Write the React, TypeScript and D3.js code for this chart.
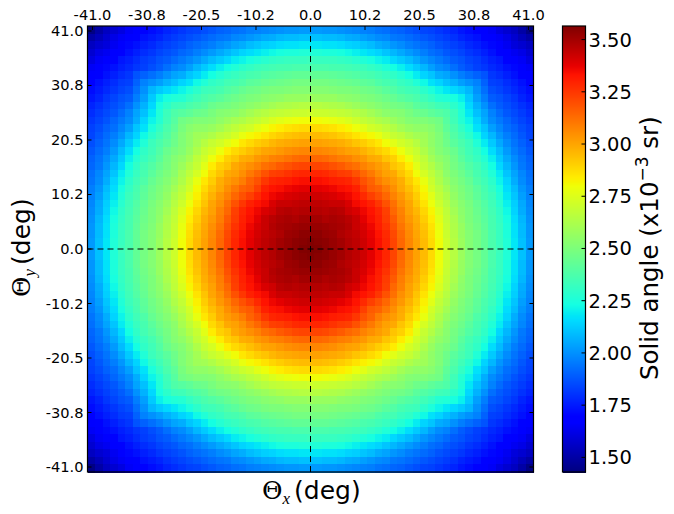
import React from "react";
import * as d3 from "d3";

// Solid angle (x10^-3 sr, stored x100), one quadrant:
// rows go outward from the centre row, columns outward from the centre column.
const quadrantRows: number[][] = [
  [357,356,354,352,350,347,345,342,338,334,329,322,314,307,301,295,288,280,271,265,258,252,248,243,237,233,226,218,210,202],
  [356,355,354,352,350,347,345,342,338,334,329,322,314,307,301,295,288,280,271,265,258,252,248,243,237,232,226,218,210,202],
  [354,354,352,351,348,346,344,341,337,333,328,321,313,306,300,294,287,279,270,264,257,252,248,243,237,232,225,217,209,201],
  [352,352,351,350,349,347,343,340,336,331,326,319,311,305,299,293,286,278,269,263,257,251,247,242,236,232,225,217,209,201],
  [350,350,348,349,348,346,343,338,334,330,324,317,309,303,298,291,284,276,268,262,255,250,246,241,236,231,224,216,208,200],
  [347,347,346,347,346,342,340,336,333,329,323,314,308,301,296,289,282,274,267,260,254,250,245,240,235,230,222,214,206,199],
  [345,345,344,343,343,340,335,333,330,325,319,312,305,300,293,286,279,271,265,258,253,249,244,239,234,228,220,213,205,198],
  [342,342,341,340,338,336,333,328,323,319,314,308,303,297,291,283,276,268,263,256,251,247,242,237,233,226,218,211,203,197],
  [338,338,337,336,334,333,330,323,317,315,310,305,299,294,288,281,272,266,260,254,250,246,241,236,231,224,216,209,201,196],
  [334,334,333,331,330,329,325,319,315,309,305,302,298,291,285,278,270,263,257,252,248,244,238,234,229,221,214,206,199,194],
  [329,329,328,326,324,323,319,314,310,305,301,299,293,288,280,273,267,261,254,250,246,241,236,232,226,219,211,204,198,193],
  [322,322,321,319,317,314,312,308,305,302,299,293,290,284,276,269,264,258,253,248,244,239,235,230,223,215,208,201,195,191],
  [314,314,313,311,309,308,305,303,299,298,293,290,284,279,272,267,260,255,252,247,241,236,232,227,220,212,205,199,194,190],
  [307,307,306,305,303,301,300,297,294,291,288,284,279,273,269,263,257,252,249,245,239,234,230,223,216,209,202,196,192,188],
  [301,301,300,299,298,296,293,291,288,285,280,276,272,269,265,260,255,251,246,241,237,233,226,219,212,205,199,194,190,186],
  [295,295,294,293,291,289,286,283,281,278,273,269,267,263,260,259,255,251,245,239,234,229,222,214,208,201,196,192,188,184],
  [288,288,287,286,284,282,279,276,272,270,267,264,260,257,255,255,253,249,242,237,231,225,217,211,203,198,193,190,186,183],
  [280,280,279,278,276,274,271,268,266,263,261,258,255,252,251,251,249,247,240,234,227,221,214,206,199,195,191,187,184,181],
  [271,270,270,269,268,267,265,263,260,257,254,253,252,249,246,245,242,240,238,233,226,218,210,204,197,192,188,185,182,179],
  [265,265,264,263,262,260,258,256,254,252,250,248,247,245,241,239,237,234,233,229,224,215,207,200,193,189,186,183,180,177],
  [258,257,257,257,255,254,253,251,250,248,246,244,241,239,237,234,231,227,226,224,220,212,203,196,189,187,184,181,177,174],
  [252,252,252,251,250,250,249,247,246,244,241,239,236,234,233,229,225,221,218,215,212,208,200,193,186,184,181,178,175,172],
  [248,248,248,247,246,245,244,242,241,238,236,235,232,230,226,222,217,214,210,207,203,200,197,190,183,182,179,176,173,170],
  [243,243,243,242,241,240,239,237,236,234,232,230,227,223,219,214,211,206,204,200,196,193,190,187,181,179,176,173,170,168],
  [237,237,237,236,236,235,234,233,231,229,226,223,220,216,212,208,203,199,197,193,189,186,183,181,178,176,173,171,168,165],
  [233,232,232,232,231,230,228,226,224,221,219,215,212,209,205,201,198,195,192,189,187,184,182,179,176,174,170,168,165,161],
  [226,226,225,225,224,222,220,218,216,214,211,208,205,202,199,196,193,191,188,186,184,181,179,176,173,170,167,164,162,158],
  [218,218,217,217,216,214,213,211,209,206,204,201,199,196,194,192,190,187,185,183,181,178,176,173,171,168,164,160,158,155],
  [210,210,209,209,208,206,205,203,201,199,198,195,194,192,190,188,186,184,182,180,177,175,173,170,168,165,162,158,154,150],
  [202,202,201,201,200,199,198,197,196,194,193,191,190,188,186,184,183,181,179,177,174,172,170,168,165,161,158,155,150,144],
];

const angleTicks = [-41, -30.75, -20.5, -10.25, 0, 10.25, 20.5, 30.75, 41];
const angleLabels = ["-41.0", "-30.8", "-20.5", "-10.2", "0.0", "10.2", "20.5", "30.8", "41.0"];
const barTicks = [1.5, 1.75, 2.0, 2.25, 2.5, 2.75, 3.0, 3.25, 3.5];
const barLabels = ["1.50", "1.75", "2.00", "2.25", "2.50", "2.75", "3.00", "3.25", "3.50"];
const angleExtent = 41.94;
const vMin = 1.43;
const vMax = 3.565;

const FONT = "'DejaVu Sans', sans-serif";
const L = 87.5, R = 533.5, T = 26, B = 472;
const BL = 562.5, BR = 585.5;

const red = d3.scaleLinear([0, 0.35, 0.66, 0.89, 1], [0, 0, 1, 1, 0.5]);
const green = d3.scaleLinear([0, 0.125, 0.375, 0.64, 0.91, 1], [0, 0, 1, 1, 0, 0]);
const blue = d3.scaleLinear([0, 0.11, 0.34, 0.65, 1], [0.5, 1, 1, 0, 0]);
const norm = d3.scaleLinear([vMin, vMax], [0, 1]).clamp(true);
const jet = (v: number) => {
  const t = norm(v);
  return d3.rgb(red(t) * 255, green(t) * 255, blue(t) * 255).formatRgb();
};

export default function App() {
  const n = quadrantRows.length;
  const idx = d3.range(-(n - 1), n);
  const xBand = d3.scaleBand<number>().domain(idx).range([L, R]);
  const yBand = d3.scaleBand<number>().domain(idx).range([T, B]);
  const x = d3.scaleLinear([-angleExtent, angleExtent], [L, R]);
  const y = d3.scaleLinear([-angleExtent, angleExtent], [B, T]);
  const bar = d3.scaleLinear([vMin, vMax], [B, T]);
  const barSteps = d3.range(0, B - T, 1);
  const w = xBand.bandwidth(), h = yBand.bandwidth();

  return (
    <svg width={674} height={514} style={{ position: "absolute", left: 0, top: 0, background: "#fff" }} fontFamily={FONT}>
      <g shapeRendering="crispEdges">
        {idx.map((r) =>
          idx.map((c) => (
            <rect key={r + "_" + c} x={xBand(c)} y={yBand(r)} width={w + 0.6} height={h + 0.6}
              fill={jet(quadrantRows[Math.abs(r)][Math.abs(c)] / 100)} />
          ))
        )}
        {barSteps.map((s) => (
          <rect key={s} x={BL} y={T + s} width={BR - BL} height={1.5} fill={jet(bar.invert(T + s + 0.5))} />
        ))}
      </g>
      <line x1={x(0)} x2={x(0)} y1={T} y2={B} stroke="#000" strokeWidth={1} strokeDasharray="6 4" />
      <line x1={L} x2={R} y1={y(0)} y2={y(0)} stroke="#000" strokeWidth={1} strokeDasharray="6 4" />
      <rect x={L} y={T} width={R - L} height={B - T} fill="none" stroke="#000" strokeWidth={1.2} />
      <rect x={BL} y={T} width={BR - BL} height={B - T} fill="none" stroke="#000" strokeWidth={1.2} />

      {angleTicks.map((t, i) => (
        <g key={"x" + i}>
          <line x1={x(t)} x2={x(t)} y1={T} y2={T + 4} stroke="#000" />
          <text x={x(t)} y={T - 6} textAnchor="middle" fontSize={14.6}>{angleLabels[i]}</text>
        </g>
      ))}
      {angleTicks.map((t, i) => (
        <g key={"y" + i}>
          <line x1={L} x2={L + 4} y1={y(t)} y2={y(t)} stroke="#000" />
          <line x1={R} x2={R - 4} y1={y(t)} y2={y(t)} stroke="#000" />
          <text x={L - 4} y={y(t) + 5} textAnchor="end" fontSize={14.6}>{angleLabels[i]}</text>
        </g>
      ))}
      {barTicks.map((t, i) => (
        <g key={"b" + i}>
          <line x1={BR - 4} x2={BR} y1={bar(t)} y2={bar(t)} stroke="#000" />
          <text x={BR + 3} y={bar(t) + 7} fontSize={19.5}>{barLabels[i]}</text>
        </g>
      ))}

      <text x={262} y={499} fontSize={25} fontFamily="'DejaVu Serif', serif">Θ<tspan fontSize={17} dy={5} fontStyle="italic" fontFamily="'Liberation Serif', serif">x</tspan><tspan dy={-5} fontFamily={FONT} dx={4}>(deg)</tspan></text>
      <text transform="translate(30,297) rotate(-90)" fontSize={25} fontFamily="'DejaVu Serif', serif">Θ<tspan fontSize={17} dy={5} fontStyle="italic" fontFamily="'Liberation Serif', serif">y</tspan><tspan dy={-5} fontFamily={FONT} dx={4}>(deg)</tspan></text>
      <text transform="translate(658,380) rotate(-90)" fontSize={24.5}>Solid angle (x10<tspan fontSize={17} dy={-10}>−3</tspan><tspan dy={10}> sr)</tspan></text>
    </svg>
  );
}
